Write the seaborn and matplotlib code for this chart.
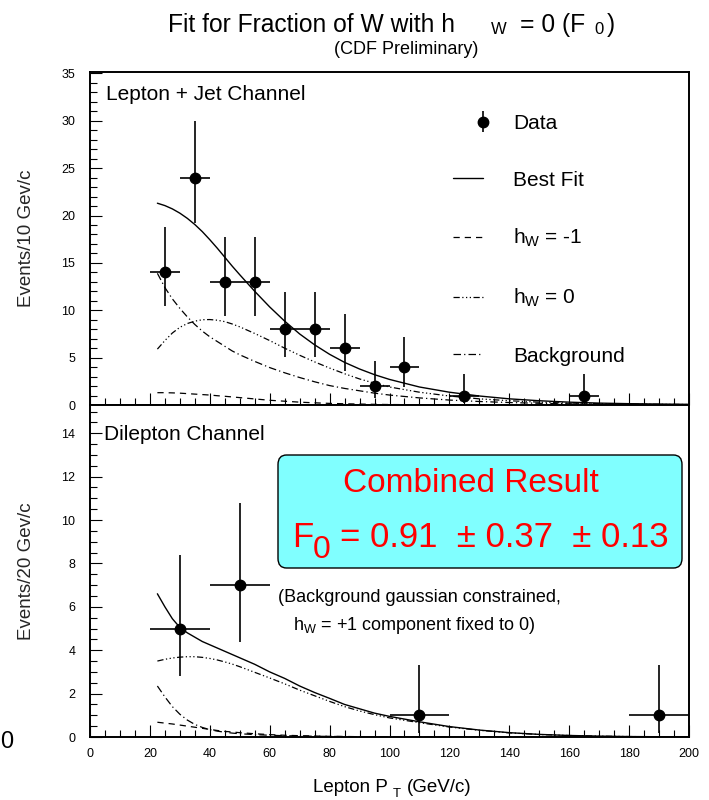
import numpy as np
import pandas as pd
import matplotlib
matplotlib.use("Agg")
import matplotlib.pyplot as plt
import seaborn as sns
from matplotlib.container import ErrorbarContainer
from matplotlib.legend_handler import HandlerErrorbar
from matplotlib.patches import FancyBboxPatch
from matplotlib.ticker import MultipleLocator

# ---------------------------------------------------------------- data
# Lepton + jet channel, 10 GeV/c bins (asymmetric Poisson intervals)
lj_pt = [25, 35, 45, 55, 65, 75, 85, 95, 105, 125, 165]
lj_events = [14, 24, 13, 13, 8, 8, 6, 2, 4, 1, 1]
lj_low = [10.4, 19.2, 9.4, 9.4, 5.1, 5.1, 3.6, 0.7, 1.9, 0.17, 0.17]
lj_high = [18.8, 30.0, 17.7, 17.7, 11.9, 11.9, 9.6, 4.6, 7.2, 3.3, 3.3]
lj_halfbin = 5

# Dilepton channel, 20 GeV/c bins
dl_pt = [30, 50, 110, 190]
dl_events = [5, 7, 1, 1]
dl_low = [2.8, 4.4, 0.17, 0.17]
dl_high = [8.4, 10.8, 3.3, 3.3]
dl_halfbin = 10

# fit templates evaluated on a common pT grid
fit_pt = [22.5, 25, 27.5, 30, 32.5, 35, 37.5, 40, 42.5, 45, 47.5, 50, 55, 60, 65,
          70, 75, 80, 85, 90, 95, 100, 110, 120, 130, 140, 150, 160, 170, 180,
          190, 200]

lj_best = [21.3, 21.05, 20.7, 20.25, 19.7, 19.05, 18.3, 17.45, 16.55, 15.6, 14.65,
           13.75, 12.0, 10.35, 8.85, 7.5, 6.35, 5.35, 4.5, 3.8, 3.2, 2.7, 1.9,
           1.35, 0.95, 0.65, 0.45, 0.3, 0.2, 0.14, 0.1, 0.07]
lj_hminus = [1.3, 1.3, 1.28, 1.25, 1.2, 1.15, 1.1, 1.05, 0.98, 0.92, 0.85, 0.78,
             0.64, 0.5, 0.4, 0.3, 0.23, 0.17, 0.13, 0.1, 0.07, 0.05, 0.03, 0.02,
             0.01, 0.01, 0.005, 0.0, 0.0, 0.0, 0.0, 0.0]
lj_hzero = [5.9, 6.8, 7.6, 8.2, 8.6, 8.85, 9.0, 9.02, 8.95, 8.8, 8.55, 8.25, 7.55,
            6.8, 6.0, 5.25, 4.55, 3.9, 3.3, 2.75, 2.3, 1.9, 1.35, 0.95, 0.65, 0.45,
            0.3, 0.2, 0.14, 0.1, 0.07, 0.05]
lj_bkg = [13.9, 12.4, 11.2, 10.2, 9.3, 8.5, 7.8, 7.2, 6.7, 6.2, 5.7, 5.3, 4.6,
          3.95, 3.4, 2.9, 2.45, 2.05, 1.75, 1.5, 1.25, 1.05, 0.75, 0.52, 0.37,
          0.26, 0.18, 0.13, 0.09, 0.06, 0.045, 0.03]

dl_best = [6.6, 6.0, 5.45, 5.05, 4.8, 4.6, 4.4, 4.25, 4.1, 3.95, 3.8, 3.65, 3.35,
           3.0, 2.7, 2.35, 2.05, 1.78, 1.5, 1.3, 1.1, 0.95, 0.7, 0.48, 0.32, 0.2,
           0.12, 0.07, 0.04, 0.02, 0.012, 0.008]
dl_hminus = [0.68, 0.64, 0.6, 0.55, 0.5, 0.45, 0.4, 0.35, 0.3, 0.26, 0.23, 0.2,
             0.15, 0.11, 0.08, 0.06, 0.045, 0.03, 0.022, 0.016, 0.012, 0.009,
             0.005, 0.003, 0.002, 0.001, 0.0, 0.0, 0.0, 0.0, 0.0, 0.0]
dl_hzero = [3.5, 3.58, 3.64, 3.68, 3.7, 3.7, 3.67, 3.62, 3.55, 3.46, 3.36, 3.24,
            2.98, 2.72, 2.45, 2.16, 1.9, 1.64, 1.4, 1.2, 1.03, 0.88, 0.66, 0.46,
            0.31, 0.19, 0.115, 0.068, 0.038, 0.02, 0.012, 0.007]
dl_bkg = [2.35, 1.85, 1.4, 1.05, 0.78, 0.58, 0.44, 0.34, 0.27, 0.22, 0.18, 0.15,
          0.11, 0.08, 0.06, 0.045, 0.035, 0.027, 0.02, 0.015, 0.012, 0.01, 0.005,
          0.003, 0.002, 0.001, 0.0, 0.0, 0.0, 0.0, 0.0, 0.0]

legend_labels = ["Data", "Best Fit", r"h$_{\mathrm{W}}$ = -1",
                 r"h$_{\mathrm{W}}$ = 0", "Background"]

# ---------------------------------------------------------------- style
sns.set_theme(style="ticks")
plt.rcParams.update({
    "font.family": ["Liberation Sans", "DejaVu Sans"],
    "mathtext.fontset": "custom",
    "mathtext.rm": "Liberation Sans",
    "mathtext.it": "Liberation Sans:italic",
    "mathtext.bf": "Liberation Sans:bold",
    "axes.linewidth": 1.4,
    "axes.edgecolor": "black",
    "axes.facecolor": "white",
    "figure.facecolor": "white",
    "text.color": "black",
    "xtick.color": "black",
    "ytick.color": "black",
})

W, H = 709, 800
fig = plt.figure(figsize=(W / 100, H / 100), dpi=100)


def fx(px):
    return px / W


def fy(py):
    return 1 - py / H


ax_top = fig.add_axes([fx(90), fy(405), fx(689) - fx(90), fy(72) - fy(405)])
ax_bot = fig.add_axes([fx(90), fy(737), fx(689) - fx(90), fy(405) - fy(737)])

curve_styles = {
    "best": dict(linewidth=1.0, linestyle="-"),
    "hminus": dict(linewidth=0.9, linestyle=(0, (5, 4))),
    "hzero": dict(linewidth=0.9, linestyle=(0, (5, 2, 1, 2, 1, 2, 1, 2))),
    "bkg": dict(linewidth=0.9, linestyle=(0, (6, 2.5, 1, 2.5))),
}


def draw_panel(ax, pt, counts, low, high, halfbin, curves):
    frame = pd.DataFrame({"pt": fit_pt, **curves})
    lines = {}
    for key in ["best", "hminus", "hzero", "bkg"]:
        sns.lineplot(data=frame, x="pt", y=key, ax=ax, color="black",
                     errorbar=None, legend=False, **curve_styles[key])
        lines[key] = ax.lines[-1]
    counts = np.asarray(counts, float)
    yerr = [counts - np.asarray(low), np.asarray(high) - counts]
    ax.errorbar(pt, counts, xerr=halfbin, yerr=yerr, fmt="o", color="black",
                ms=7.5, elinewidth=1.2, capsize=0, zorder=4)
    ax.set_xlabel("")
    ax.set_ylabel("")
    return lines


top_lines = draw_panel(ax_top, lj_pt, lj_events, lj_low, lj_high, lj_halfbin,
                       dict(best=lj_best, hminus=lj_hminus, hzero=lj_hzero, bkg=lj_bkg))
draw_panel(ax_bot, dl_pt, dl_events, dl_low, dl_high, dl_halfbin,
           dict(best=dl_best, hminus=dl_hminus, hzero=dl_hzero, bkg=dl_bkg))

# ---------------------------------------------------------------- axes
for ax in (ax_top, ax_bot):
    ax.set_xlim(0, 200)
    ax.xaxis.set_major_locator(MultipleLocator(20))
    ax.xaxis.set_minor_locator(MultipleLocator(5))
    ax.tick_params(which="both", direction="in", top=False, right=False,
                   width=0.8, labelsize=9)
    ax.tick_params(which="major", length=8.6)
    ax.tick_params(which="minor", length=5)
    ax.tick_params(axis="y", pad=10.5)
    ax.tick_params(axis="x", pad=8)
    for s in ax.spines.values():
        s.set_visible(True)
        s.set_linewidth(1.4)
        s.set_color("black")

ax_top.tick_params(axis="x", labelbottom=False)
ax_top.set_ylim(0, 35.15)
ax_top.yaxis.set_major_locator(MultipleLocator(5))
ax_top.yaxis.set_minor_locator(MultipleLocator(1))

ax_bot.set_ylim(0, 15.3)
ax_bot.yaxis.set_major_locator(MultipleLocator(2))
ax_bot.yaxis.set_minor_locator(MultipleLocator(0.5))

ax_top.set_ylabel("Events/10 Gev/c", fontsize=13.5)
ax_bot.set_ylabel("Events/20 Gev/c", fontsize=13.5)
for ax in (ax_top, ax_bot):
    ax.yaxis.set_label_coords((35 - 90) / 599, 0.5)

# ---------------------------------------------------------------- legend
class RightMarkerErrorbar(HandlerErrorbar):
    """Errorbar legend key with the marker at the right end of the key."""

    def get_xdata(self, legend, xdescent, ydescent, width, height, fontsize):
        xdata, _ = super().get_xdata(legend, xdescent, ydescent, width, height, fontsize)
        return xdata, [-xdescent + width]


data_key = ax_top.errorbar([np.nan], [np.nan], yerr=[0.0], fmt="o", color="black",
                           ms=7.5, elinewidth=1.2, capsize=0)
handles = [data_key, top_lines["best"], top_lines["hminus"], top_lines["hzero"],
           top_lines["bkg"]]
ax_top.legend(handles, legend_labels, loc="upper left",
              bbox_to_anchor=(fx(453), fy(114)), bbox_transform=fig.transFigure,
              frameon=False, fontsize=15, borderpad=0, borderaxespad=0,
              handlelength=1.44, handletextpad=1.44, labelspacing=1.8,
              handler_map={ErrorbarContainer: RightMarkerErrorbar()})

# ---------------------------------------------------------------- text
def put(px, py, s, size, **kw):
    kw.setdefault("ha", "left")
    kw.setdefault("va", "baseline")
    return fig.text(fx(px), fy(py), s, fontsize=size, **kw)


# title
put(168, 32, "Fit for Fraction of W with h", 17.7)
put(491, 34, "W", 12)
put(520, 32, "= 0 (F", 17.7)
put(594, 34, "0", 12)
put(607, 32, ")", 17.7)
put(406, 54, "(CDF Preliminary)", 13, ha="center")

# x axis title
put(313, 792, "Lepton P", 13.5)
put(393, 797, "T", 9.5)
put(407, 792, "(GeV/c)", 13.5)

# channel names
put(106, 100, "Lepton + Jet Channel", 15)
put(104, 440, "Dilepton Channel", 15)

# combined result box
box = FancyBboxPatch((fx(278), fy(568)), fx(682) - fx(278), fy(455) - fy(568),
                     boxstyle="round,pad=0,rounding_size=0.012",
                     transform=fig.transFigure, facecolor="#80ffff",
                     edgecolor="black", linewidth=1.0, zorder=5)
fig.add_artist(box)
put(471, 492, "Combined Result", 24, ha="center", color="#ff0000", zorder=6)
put(292, 547, "F", 25, color="#ff0000", zorder=6)
put(313, 558, "0", 23, color="#ff0000", zorder=6)
put(340, 547, "= 0.91  \u00b1 0.37  \u00b1 0.13", 25, color="#ff0000", zorder=6)

# fit conditions
put(278, 602, "(Background gaussian constrained,", 13)
put(293, 630, r"h$_{\mathrm{W}}$ = +1 component fixed to 0)", 13)

# page number
put(0, 748, "0", 17)

fig.savefig("out.png", dpi=100)
